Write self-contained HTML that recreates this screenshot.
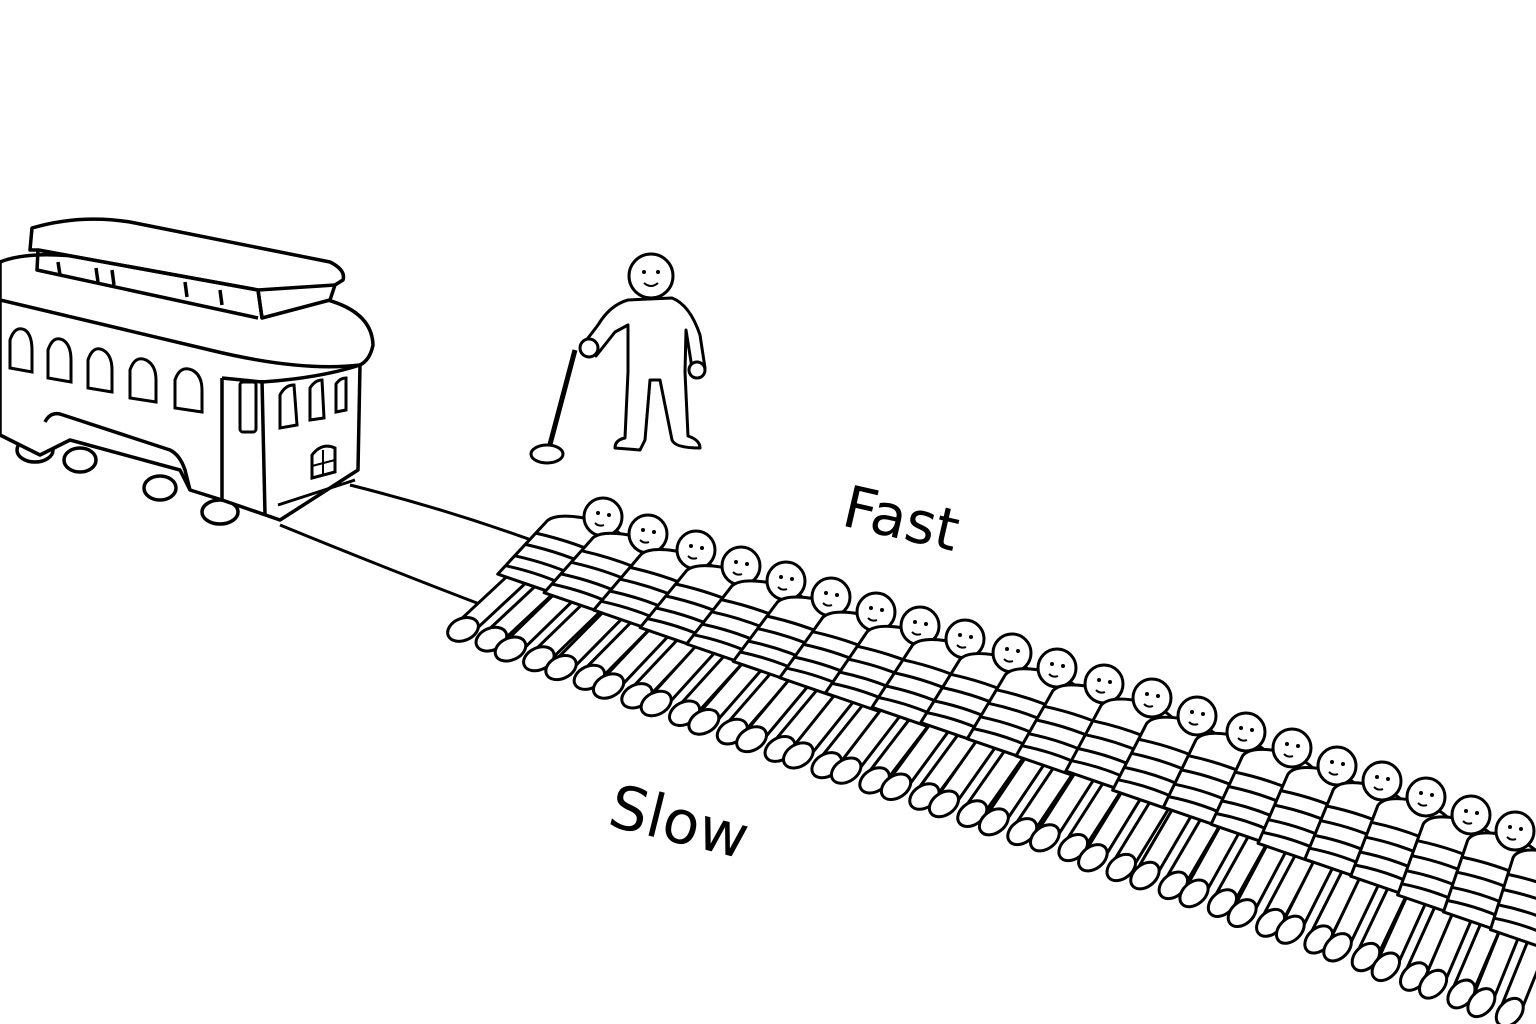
<!DOCTYPE html>
<html><head><meta charset="utf-8"><style>html,body{margin:0;padding:0;background:#fff}svg{display:block}</style></head>
<body>
<svg id="s" width="1536" height="1024" viewBox="0 0 1536 1024" xmlns="http://www.w3.org/2000/svg">
<!-- tracks -->
<path d="M350,485 Q450,510 545,545" fill="none" stroke="#000" stroke-width="3"/>
<path d="M280,525 Q390,570 490,608" fill="none" stroke="#000" stroke-width="3"/>

<!-- trolley -->
<g fill="#fff" stroke="#000" stroke-width="3.5" stroke-linejoin="round">
  <ellipse cx="35" cy="450" rx="18" ry="12"/>
  <ellipse cx="80" cy="460" rx="16" ry="12"/>
  <ellipse cx="160" cy="488" rx="16" ry="12"/>
  <ellipse cx="220" cy="512" rx="18" ry="12"/>
  <path d="M0,262 Q30,250 90,258 L320,298 Q372,310 373,345 Q370,360 360,365 L358,470 L280,520 L222,500 L190,490 L180,470 L70,440 L40,455 L0,435 Z"/>
  <path d="M0,300 L210,350 Q300,372 360,365" fill="none"/>
  <path d="M222,378 L222,500 M262,380 L265,515 M222,378 L262,382 Q320,378 360,365" fill="none"/>
  <path d="M45,422 Q50,412 60,414 L170,450 Q180,455 185,470 L190,490" fill="none"/>
  <path d="M30,250 L32,228 Q80,214 130,222 L330,262 Q346,270 343,280 L335,285 L330,300 L262,318 L258,290 L38,250 Z"/>
  <path d="M38,250 L258,290 L262,318 M258,290 L335,285 M38,250 L37,270 L258,318" fill="none"/>
  <path d="M58,262 L60,275 M96,268 L98,282 M112,270 L114,285 M185,282 L187,297 M220,290 L222,305" fill="none"/>
</g>
<g fill="#fff" stroke="#000" stroke-width="3">
  <path d="M10,368 L10,340 Q15,325 25,330 Q32,335 32,350 L32,372 Z"/>
  <path d="M48,378 L48,350 Q53,335 63,340 Q71,345 71,360 L71,382 Z"/>
  <path d="M88,388 L88,360 Q93,345 103,350 Q112,355 112,370 L112,392 Z"/>
  <path d="M130,398 L130,370 Q135,355 146,360 Q156,365 156,380 L156,402 Z"/>
  <path d="M175,408 L175,380 Q180,365 192,370 Q202,375 202,390 L202,412 Z"/>
  <rect x="240" y="382" width="16" height="50" rx="3"/>
  <path d="M280,428 L280,395 Q285,385 294,385 L297,425 Z"/>
  <path d="M310,420 L310,388 Q315,380 322,380 L324,418 Z"/>
  <path d="M336,412 L336,384 Q340,378 346,378 L346,410 Z"/>
  <path d="M312,478 L312,455 Q322,442 335,448 L335,472 Z"/>
  <path d="M323,450 L323,476 M312,466 L335,460" fill="none" stroke-width="2"/>
  <path d="M278,505 L355,480" fill="none"/>
</g>

<!-- standing man -->
<g fill="#fff" stroke="#000" stroke-width="3" stroke-linejoin="round">
  <path d="M548,452 L575,350" fill="none" stroke-width="5"/>
  <ellipse cx="547" cy="454" rx="16" ry="9"/>
  <path d="M628,300 Q610,305 598,325 L585,342 L596,356 L615,332 L628,325 L628,372 L625,438 Q615,440 615,448 L640,450 L645,440 L650,380 L660,380 L672,440 Q675,448 700,448 Q700,440 688,436 L685,372 L686,330 L692,368 L705,368 L700,335 Q690,305 672,298 Z"/>
  <circle cx="589" cy="348" r="9"/>
  <circle cx="697" cy="370" r="8"/>
  <circle cx="651" cy="276" r="22"/>
  <circle cx="644" cy="272" r="2" fill="#000" stroke="none"/>
  <circle cx="658" cy="272" r="2" fill="#000" stroke="none"/>
  <path d="M644,283 Q651,289 658,283" fill="none" stroke-width="2"/>
</g>

<g id="people" fill="#fff" stroke="#000" stroke-width="3" stroke-linejoin="round"></g>

<text x="0" y="0" transform="translate(840,525) rotate(13)" font-family="DejaVu Sans, Liberation Sans, sans-serif" font-size="58" fill="#000">Fast</text>
<text x="0" y="0" transform="translate(606,825) rotate(14)" font-family="DejaVu Sans, Liberation Sans, sans-serif" font-size="60" fill="#000">Slow</text>
</svg>
<script>
(function(){
var heads=[[603,517],[648,534],[696,550],[741,566],[786,581],[831,597],[876,612],[920,626],[965,639],[1012,653],[1057,668],[1104,684],[1152,698],[1197,716],[1246,732],[1292,748],[1337,766],[1382,781],[1426,797],[1471,815],[1515,831],[1560,848]];
var g=document.getElementById('people');var NS='http://www.w3.org/2000/svg';
function el(t,a){var e=document.createElementNS(NS,t);for(var k in a)e.setAttribute(k,a[k]);g.appendChild(e);return e;}
var ux=0.946,uy=0.325;
function P(h,d,s,t){return [h[0]+d[0]*s+ux*t,h[1]+d[1]*s+uy*t];}
function f(p){return p[0].toFixed(1)+','+p[1].toFixed(1);}
heads.forEach(function(h,i){
  var a=(137-25*i/(heads.length-1))*Math.PI/180;
  var d=[Math.cos(a),Math.sin(a)];
  // legs
  [-15,15].forEach(function(o){
    var w=10;
    var p1=P(h,d,92,o-w),p2=P(h,d,170,o-w),p3=P(h,d,170,o+w),p4=P(h,d,92,o+w);
    el('path',{d:'M'+f(p1)+' L'+f(p2)+' L'+f(p3)+' L'+f(p4)+' Z'});
    var c=P(h,d,172,o);
    el('ellipse',{cx:c[0],cy:c[1],rx:11,ry:16,transform:'rotate('+(a*180/Math.PI-90+20)+' '+c[0]+' '+c[1]+')'});
  });
  // torso
  var sL=P(h,d,24,-40),sR=P(h,d,24,40),top=P(h,d,6,0),hR=P(h,d,100,34),hL=P(h,d,100,-34);
  var cL=P(h,d,10,-38),cR=P(h,d,10,38);
  el('path',{d:'M'+f(sL)+' Q'+f(cL)+' '+f(top)+' Q'+f(cR)+' '+f(sR)+' L'+f(hR)+' L'+f(hL)+' Z'});
  [42,58,74,88].forEach(function(s){
    var w=40-6*(s-24)/76;
    var a1=P(h,d,s,-w),a2=P(h,d,s,w),m=P(h,d,s-5,0);
    el('path',{d:'M'+f(a1)+' Q'+f(m)+' '+f(a2),fill:'none'});
  });
  // head
  el('circle',{cx:h[0],cy:h[1],r:19});
  el('circle',{cx:h[0]-5,cy:h[1]-4,r:2,fill:'#000',stroke:'none'});
  el('circle',{cx:h[0]+6,cy:h[1]-2,r:2,fill:'#000',stroke:'none'});
  el('path',{d:'M'+(h[0]-8)+','+(h[1]+6)+' Q'+(h[0]-4)+','+(h[1]+10)+' '+(h[0]+1)+','+(h[1]+8),fill:'none','stroke-width':2});
});
})();
</script>
</body></html>
